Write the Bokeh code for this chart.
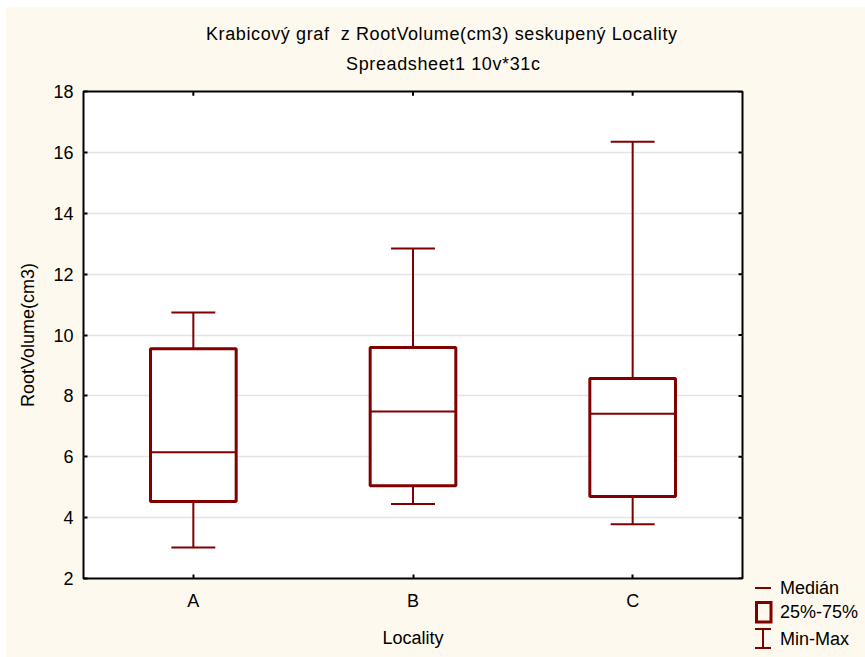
from bokeh.plotting import figure
from bokeh.layouts import row, column
from bokeh.models import (FactorRange, Range1d, LinearAxis, CategoricalAxis, FixedTicker,
                          ColumnDataSource, Div, Spacer)
from bokeh.transform import dodge
from bokeh.embed import file_html
from bokeh.resources import INLINE

# ---- data ----
localities = ["A", "B", "C"]
mins = [3.02, 4.45, 3.78]
q1 = [4.53, 5.05, 4.69]
medians = [6.15, 7.49, 7.41]
q3 = [9.55, 9.59, 8.57]
maxs = [10.74, 12.84, 16.35]
y_ticks = [2, 4, 6, 8, 10, 12, 14, 16, 18]

title1 = "Krabicový graf  z RootVolume(cm3) seskupený Locality"
title2 = "Spreadsheet1 10v*31c"
x_label = "Locality"
y_label = "RootVolume(cm3)"
legend_labels = ["Medián", "25%-75%", "Min-Max"]

FONT = "Liberation Sans"
RED = "#800000"
CREAM = "#FEF9EE"

src = ColumnDataSource(dict(cat=localities, mn=mins, q1=q1, med=medians, q3=q3, mx=maxs))

TOP_H = 77          # height of the title strip (page pixels)
MAIN_W = 745
BODY_H = 657 - TOP_H

p = figure(width=MAIN_W, height=BODY_H, margin=(0, 0, 0, 0),
           x_range=FactorRange(*localities, range_padding=0),
           y_range=Range1d(y_ticks[0], y_ticks[-1]),
           output_backend="svg", toolbar_location=None, title=None,
           min_border_left=77, min_border_right=MAIN_W - 736, min_border_top=91 - TOP_H,
           min_border_bottom=BODY_H - (578 - TOP_H),
           x_axis_location=None, y_axis_location=None)
p.border_fill_color = CREAM
p.background_fill_color = "white"
p.outline_line_color = "black"
p.outline_line_width = 2

ticker = FixedTicker(ticks=y_ticks)

def style_axis(ax):
    ax.axis_line_color = None
    ax.major_tick_in = 4
    ax.major_tick_out = 0
    ax.major_tick_line_color = "black"
    ax.major_tick_line_width = 2
    ax.minor_tick_line_color = None
    ax.major_label_text_font = FONT
    ax.major_label_text_font_size = "18px"
    ax.major_label_text_color = "black"
    ax.axis_label_text_font = FONT
    ax.axis_label_text_font_size = "18px"
    ax.axis_label_text_font_style = "normal"
    ax.axis_label_text_color = "black"

left = LinearAxis(ticker=ticker, axis_label=y_label)
style_axis(left)
left.major_label_standoff = 10
left.axis_label_standoff = 12
p.add_layout(left, "left")

bottom = CategoricalAxis(axis_label=x_label)
style_axis(bottom)
bottom.major_label_standoff = 12
bottom.axis_label_standoff = 14
p.add_layout(bottom, "below")

p.ygrid.ticker = ticker
p.ygrid.grid_line_color = "#e4e4e4"
p.ygrid.grid_line_width = 1.5
p.xgrid.grid_line_color = None

# inward ticks on the right and top edges of the frame
tick_y = ColumnDataSource(dict(cat=[localities[-1]] * len(y_ticks), y=y_ticks))
p.segment(x0=dodge("cat", 0.482, range=p.x_range), y0="y",
          x1=dodge("cat", 0.5, range=p.x_range), y1="y", source=tick_y,
          line_color="black", line_width=2)
tick_x = ColumnDataSource(dict(cat=localities, y0=[y_ticks[-1] - 0.14] * 3, y1=[y_ticks[-1]] * 3))
p.segment(x0="cat", y0="y0", x1="cat", y1="y1", source=tick_x, line_color="black", line_width=2)

# whisker stems
p.segment(x0="cat", y0="q3", x1="cat", y1="mx", source=src, line_color=RED, line_width=2)
p.segment(x0="cat", y0="q1", x1="cat", y1="mn", source=src, line_color=RED, line_width=2)
# caps
p.segment(x0=dodge("cat", -0.1, range=p.x_range), y0="mx",
          x1=dodge("cat", 0.1, range=p.x_range), y1="mx", source=src, line_color=RED, line_width=2)
p.segment(x0=dodge("cat", -0.1, range=p.x_range), y0="mn",
          x1=dodge("cat", 0.1, range=p.x_range), y1="mn", source=src, line_color=RED, line_width=2)
# boxes
p.vbar(x="cat", top="q3", bottom="q1", width=0.39, source=src,
       fill_color="white", line_color=RED, line_width=3)
# medians
p.segment(x0=dodge("cat", -0.195, range=p.x_range), y0="med",
          x1=dodge("cat", 0.195, range=p.x_range), y1="med", source=src, line_color=RED, line_width=2)

# ---- title strip ----
title_svg = (
    f'<svg xmlns="http://www.w3.org/2000/svg" width="865" height="{TOP_H}" style="display:block">'
    f'<rect x="0" y="0" width="865" height="{TOP_H}" fill="white"/>'
    f'<rect x="6" y="7" width="859" height="{TOP_H - 7}" fill="{CREAM}"/>'
    f'<text x="441.5" y="40" text-anchor="middle" font-family="{FONT}" font-size="18px" '
    f'fill="black" textLength="471" lengthAdjust="spacing" style="white-space:pre">{title1}</text>'
    f'<text x="443" y="70" text-anchor="middle" font-family="{FONT}" font-size="18px" '
    f'fill="black" textLength="194" lengthAdjust="spacing">{title2}</text>'
    '</svg>'
)
head = Div(text=title_svg, width=865, height=TOP_H, margin=(0, 0, 0, 0), disable_math=True,
           styles={"padding": "0px"})

# ---- legend key, to the right of the plot, below the frame ----
LEG_W = 865 - 6 - MAIN_W
def ly(y):
    return y - TOP_H
text_y = [588, 612, 639]
svg = (
    f'<svg xmlns="http://www.w3.org/2000/svg" width="{LEG_W}" height="{BODY_H}" style="display:block">'
    f'<rect x="0" y="0" width="{LEG_W}" height="{BODY_H}" fill="{CREAM}"/>'
    f'<line x1="4" y1="{ly(588)}" x2="20" y2="{ly(588)}" stroke="{RED}" stroke-width="2"/>'
    f'<rect x="5.5" y="{ly(602.5)}" width="14.5" height="19.5" fill="none" stroke="{RED}" stroke-width="3"/>'
    f'<line x1="4" y1="{ly(629)}" x2="20" y2="{ly(629)}" stroke="{RED}" stroke-width="2"/>'
    f'<line x1="4" y1="{ly(648)}" x2="20" y2="{ly(648)}" stroke="{RED}" stroke-width="2"/>'
    f'<line x1="12" y1="{ly(629)}" x2="12" y2="{ly(648)}" stroke="{RED}" stroke-width="2"/>'
)
for lab, ty in zip(legend_labels, text_y):
    svg += (f'<text x="29" y="{ly(ty)}" dominant-baseline="central" font-family="{FONT}" '
            f'font-size="18px" fill="black">{lab}</text>')
svg += '</svg>'

leg = Div(text=svg, width=LEG_W, height=BODY_H, margin=(0, 0, 0, 0), disable_math=True,
          styles={"padding": "0px"})

left_strip = Spacer(width=6, height=BODY_H, margin=(0, 0, 0, 0), styles={"background-color": "white"})

body = row(left_strip, p, leg, spacing=0, styles={"background-color": CREAM})
layout = column(head, body, spacing=0, styles={"background-color": CREAM})
open("out.html", "w").write(file_html(layout, INLINE))
